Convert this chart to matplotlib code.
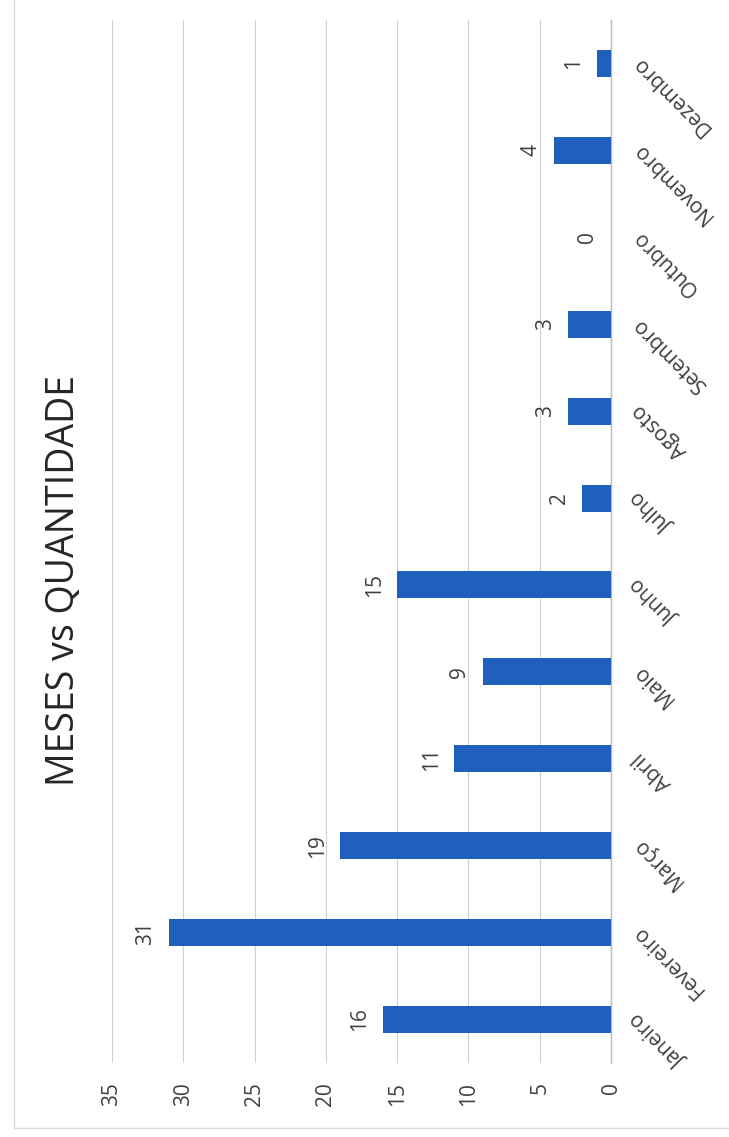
import matplotlib
matplotlib.use("Agg")
import matplotlib.pyplot as plt
from matplotlib.patches import Rectangle


meses = ["Janeiro", "Fevereiro", "Março", "Abril", "Maio", "Junho",
         "Julho", "Agosto", "Setembro", "Outubro", "Novembro", "Dezembro"]
quantidade = [16, 31, 19, 11, 9, 15, 2, 3, 3, 0, 4, 1]
ticks_valor = [0, 5, 10, 15, 20, 25, 30, 35]
titulo = "MESES vs QUANTIDADE"

BLUE = "#1f5fbd"
TEXT = "#404040"

plt.rcParams["font.family"] = ["Open Sans", "DejaVu Sans"]

W, H = 729, 1137
fig = plt.figure(figsize=(W / 100, H / 100), dpi=100)

# chart is drawn rotated 90 degrees (page scanned sideways)
ax = fig.add_axes([112 / W, 1 - 1063 / H, (611 - 112) / W, (1063 - 20) / H])
pos = list(range(len(meses)))
ax.barh(pos, quantidade, height=0.31, color=BLUE, zorder=3)
ax.set_xlim(35, 0)
ax.set_ylim(-0.5, len(meses) - 0.5)
ax.set_xticks(ticks_valor)
ax.set_xticklabels([str(t) for t in ticks_valor], rotation=90, color=TEXT, fontsize=15)
ax.tick_params(axis="x", length=0, pad=14)
ax.set_yticks([])
ax.grid(axis="x", color="#d0d0d0", linewidth=0.8, zorder=0)
for side in ["left", "top", "bottom"]:
    ax.spines[side].set_visible(False)
ax.spines["right"].set_color("#b8b8b8")
ax.spines["right"].set_linewidth(1.0)

# data labels
for i, v in enumerate(quantidade):
    ax.annotate(str(v), xy=(v, i), xytext=(-9, 0), textcoords="offset points",
                rotation=90, ha="right", va="center", fontsize=15, color=TEXT)

# category labels
for i, m in enumerate(meses):
    ax.annotate(m, xy=(1, i), xycoords=("axes fraction", "data"),
                xytext=(18, 3), textcoords="offset points",
                rotation=135, rotation_mode="anchor", ha="right", va="center",
                fontsize=15, color=TEXT, annotation_clip=False)

fig.text(64 / W, 1 - 581 / H, titulo, rotation=90, ha="center", va="center",
         fontsize=27, color="#262626")

fig.add_artist(Rectangle((14 / W, 1 - 1128 / H), 1, 1, transform=fig.transFigure,
                         fill=False, edgecolor="#d9d9d9", linewidth=1))

fig.savefig("out.png", dpi=100)
